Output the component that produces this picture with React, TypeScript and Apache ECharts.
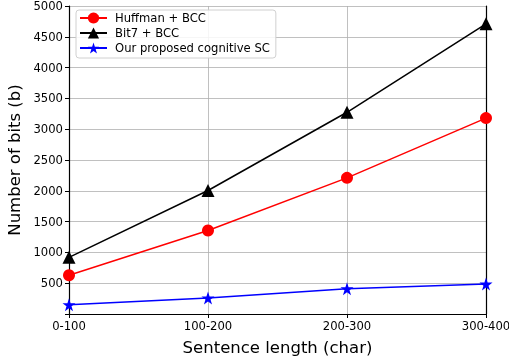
import React, { useEffect, useRef } from "react";
import * as echarts from "echarts";

const categories = ["0-100", "100-200", "200-300", "300-400"];
const huffman = [630, 1355, 2210, 3180];
const bit7 = [920, 2005, 3275, 4710];
const proposed = [150, 260, 410, 485];
const yTicks = [0, 500, 1000, 1500, 2000, 2500, 3000, 3500, 4000, 4500, 5000];

export default function App() {
  const ref = useRef<HTMLDivElement>(null);
  useEffect(() => {
    if (!ref.current) return;
    const chart = echarts.init(ref.current, null, { renderer: "svg" });
    const font = "DejaVu Sans";
    const frameAxis = {
      axisLine: { show: true, lineStyle: { color: "#000", width: 1.2 } },
      axisTick: { show: false },
      axisLabel: { show: false },
      splitLine: { show: false },
    };
    chart.setOption({
      animation: false,
      textStyle: { fontFamily: font },
      grid: {
        left: 69,
        right: 23,
        top: 6,
        bottom: 50,
        containLabel: false,
        outerBoundsMode: "none",
      },
      legend: {
        left: 76,
        top: 10,
        orient: "vertical",
        itemWidth: 27,
        itemHeight: 14,
        itemGap: 3,
        padding: [2, 6, 4, 3],
        borderColor: "#d0d0d0",
        borderWidth: 1,
        borderRadius: 3,
        backgroundColor: "rgba(255,255,255,0.85)",
        textStyle: { fontFamily: font, fontSize: 11.6, color: "#000", padding: [0, 0, 0, 3] },
        data: ["Huffman + BCC", "Bit7 + BCC", "Our proposed cognitive SC"],
      },
      xAxis: [
        {
          type: "category",
          data: categories,
          boundaryGap: false,
          name: "Sentence length (char)",
          nameLocation: "middle",
          nameGap: 25,
          nameTextStyle: { fontFamily: font, fontSize: 16.5, color: "#000" },
          axisLine: { lineStyle: { color: "#000", width: 1.2 } },
          axisTick: { show: true, length: 4, lineStyle: { color: "#000" } },
          axisLabel: { fontFamily: font, fontSize: 11.6, color: "#000", margin: 6 },
          splitLine: { show: true, lineStyle: { color: "#b0b0b0", width: 0.8 } },
        },
        { type: "category", data: categories, boundaryGap: false, position: "top", ...frameAxis },
      ],
      yAxis: [
        {
          type: "value",
          min: yTicks[0],
          max: yTicks[yTicks.length - 1],
          interval: 500,
          name: "Number of bits (b)",
          nameLocation: "middle",
          nameGap: 45,
          nameTextStyle: { fontFamily: font, fontSize: 16.5, color: "#000" },
          axisLine: { show: true, lineStyle: { color: "#000", width: 1.2 } },
          axisTick: { show: true, length: 4, lineStyle: { color: "#000" } },
          axisLabel: {
            fontFamily: font,
            fontSize: 11.6,
            lineHeight: 10,
            color: "#000",
            margin: 6,
            formatter: (v: number) => (v === 0 ? "" : String(v)),
          },
          splitLine: { show: true, lineStyle: { color: "#b0b0b0", width: 0.8 } },
        },
        {
          type: "value",
          min: yTicks[0],
          max: yTicks[yTicks.length - 1],
          interval: 500,
          position: "right",
          ...frameAxis,
        },
      ],
      series: [
        {
          name: "Huffman + BCC",
          type: "line",
          data: huffman,
          color: "#ff0000",
          symbol: "circle",
          symbolSize: 12,
          lineStyle: { width: 1.5, color: "#ff0000" },
          itemStyle: { color: "#ff0000" },
          clip: false,
          z: 3,
        },
        {
          name: "Bit7 + BCC",
          type: "line",
          data: bit7,
          color: "#000",
          symbol: "triangle",
          symbolSize: 13,
          lineStyle: { width: 1.5, color: "#000" },
          itemStyle: { color: "#000" },
          clip: false,
          z: 3,
        },
        {
          name: "Our proposed cognitive SC",
          type: "line",
          data: proposed,
          color: "#0000ff",
          symbol: "path://M50,0 L61.8,35.3 L99,35.3 L69,57.3 L80.4,92.7 L50,70.9 L19.6,92.7 L31,57.3 L1,35.3 L38.2,35.3 Z",
          symbolSize: 13,
          lineStyle: { width: 1.5, color: "#0000ff" },
          itemStyle: { color: "#0000ff" },
          clip: false,
          z: 3,
        },
      ],
    });
    return () => chart.dispose();
  }, []);
  return <div ref={ref} style={{ width: 509, height: 364, position: "fixed", left: 0, top: 0 }} />;
}
